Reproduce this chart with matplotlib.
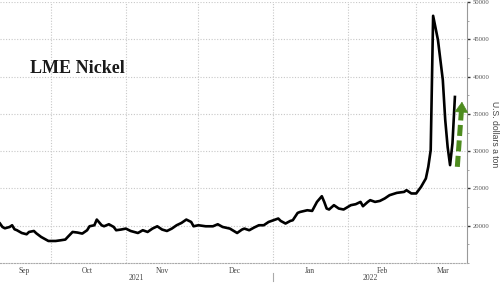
import matplotlib
matplotlib.use("Agg")
import matplotlib.pyplot as plt
import matplotlib.dates as mdates
import matplotlib.transforms as mtransforms
import pandas as pd

# LME nickel close, U.S. dollars a ton
dates = [
    "2021-09-10", "2021-09-11", "2021-09-12", "2021-09-14", "2021-09-15", "2021-09-16", "2021-09-17",
    "2021-09-19", "2021-09-21", "2021-09-22", "2021-09-24", "2021-09-25", "2021-09-27", "2021-09-30",
    "2021-10-03", "2021-10-05", "2021-10-07", "2021-10-08", "2021-10-10", "2021-10-12", "2021-10-14",
    "2021-10-16", "2021-10-17", "2021-10-19", "2021-10-20", "2021-10-22", "2021-10-23", "2021-10-25",
    "2021-10-27", "2021-10-28", "2021-10-30",
    "2021-11-01", "2021-11-03", "2021-11-06", "2021-11-08", "2021-11-10", "2021-11-12", "2021-11-14",
    "2021-11-16", "2021-11-18", "2021-11-20", "2021-11-22", "2021-11-24", "2021-11-26", "2021-11-28",
    "2021-11-29",
    "2021-12-01", "2021-12-04", "2021-12-07", "2021-12-09", "2021-12-11", "2021-12-14", "2021-12-17",
    "2021-12-19", "2021-12-20", "2021-12-22", "2021-12-24", "2021-12-26", "2021-12-28", "2021-12-30",
    "2022-01-03", "2022-01-04", "2022-01-06", "2022-01-08", "2022-01-09", "2022-01-11", "2022-01-12",
    "2022-01-15", "2022-01-17", "2022-01-19", "2022-01-21", "2022-01-22", "2022-01-23", "2022-01-24",
    "2022-01-26", "2022-01-28", "2022-01-30",
    "2022-02-02", "2022-02-04", "2022-02-06", "2022-02-07", "2022-02-09", "2022-02-10", "2022-02-12",
    "2022-02-14", "2022-02-16", "2022-02-18", "2022-02-21", "2022-02-24", "2022-02-25", "2022-02-27",
    "2022-03-01", "2022-03-03", "2022-03-05", "2022-03-06", "2022-03-07", "2022-03-08", "2022-03-10",
    "2022-03-12", "2022-03-13", "2022-03-14", "2022-03-15", "2022-03-16", "2022-03-17",
]
prices = [
    20300, 19840, 19660, 19840, 20070, 19530, 19400, 19030, 18860, 19170, 19300, 18990, 18500, 17960,
    17960, 18050, 18150, 18500, 19170, 19090, 18950, 19400, 19930, 20070, 20830, 20070, 19930, 20200,
    19840, 19400, 19490,
    19620, 19300, 19030, 19400, 19170, 19620, 19930, 19490, 19300, 19620, 20070, 20380, 20830, 20510,
    19930,
    20070, 19930, 19930, 20200, 19840, 19620, 19030, 19490, 19620, 19400, 19760, 20070, 20070, 20510,
    20970, 20650, 20300, 20650, 20740, 21720, 21850, 22080, 21990, 23200, 23960, 23200, 22310, 22180,
    22760, 22310, 22180,
    22760, 22890, 23200, 22620, 23200, 23430, 23200, 23330, 23660, 24100, 24410, 24540, 24770, 24330,
    24330, 25210, 26340, 27900, 30150, 48150, 44900, 39560, 34200, 30550, 28130, 31090, 37270,
]

month_labels = ["Sep", "Oct", "Nov", "Dec", "Jan", "Feb", "Mar"]
month_label_dates = ["2021-09-20", "2021-10-16", "2021-11-16", "2021-12-16",
                     "2022-01-16", "2022-02-15", "2022-03-12"]
year_labels = ["2021", "2022"]
year_start = "2022-01-01"
x_start, x_end = "2021-09-10", "2022-03-22"
y_ticks = [20000, 25000, 30000, 35000, 40000, 45000, 50000]

# green "rebound" arrow
arrow_tail = ("2022-03-18", 27900)
arrow_base = ("2022-03-19 16:00", 35300)
arrow_tip = ("2022-03-20", 37000)

d = pd.to_datetime(dates)
x0, x1 = pd.Timestamp(x_start), pd.Timestamp(x_end)

fig = plt.figure(figsize=(5, 2.85), dpi=100)
ax = fig.add_axes([0.0, 0.077, 0.934, 0.916])

ax.plot(d, prices, color="black", lw=1.9, solid_joinstyle="round", zorder=3)

ax.set_xlim(x0, x1)
ax.set_ylim(15000, 50000)

# grid at month starts / every 5000
ax.xaxis.set_major_locator(mdates.MonthLocator())
ax.xaxis.set_major_formatter(plt.NullFormatter())
ax.set_xticks(pd.to_datetime(month_label_dates), minor=True)
ax.set_xticklabels(month_labels, minor=True, fontsize=5.5, family="Liberation Serif", color="#444444")
ax.tick_params(axis="x", which="both", length=0, pad=2.5)
ax.grid(True, which="major", color="#c8c8c8", linestyle=(0, (1, 1.5)), lw=0.8)

ax.yaxis.tick_right()
ax.set_yticks(y_ticks)
ax.set_yticklabels([str(v) for v in y_ticks], fontsize=4.8, family="Liberation Serif", color="#555555")
ax.set_yticks(range(15000, 50001, 2500), minor=True)
ax.tick_params(axis="y", which="major", length=2, width=1.0, color="#333333", pad=2)
ax.tick_params(axis="y", which="minor", length=1.5, width=0.6, color="#999999")

# axis title on the right edge
ax.text(0.989, 0.53, "U.S. dollars a ton", transform=fig.transFigure, rotation=270,
        fontsize=6.2, color="#444444", family="Liberation Sans", ha="center", va="center")

for s in ["left", "top"]:
    ax.spines[s].set_visible(False)
ax.spines["right"].set_color("#999999")
ax.spines["right"].set_linewidth(0.8)
ax.spines["bottom"].set_color("#aaaaaa")
ax.spines["bottom"].set_linestyle((0, (1, 1.5)))
ax.spines["bottom"].set_linewidth(0.8)

# year labels centred under each year's visible span
trans = mtransforms.blended_transform_factory(ax.transData, ax.transAxes)
ys = pd.Timestamp(year_start)
for lab, (a, b) in zip(year_labels, [(x0, ys), (ys, x1)]):
    mid = a + (b - a) / 2
    ax.text(mid, -0.057, lab, transform=trans, ha="center", va="center",
            fontsize=5.5, family="Liberation Serif", color="#444444")
ax.plot([ys, ys], [-0.04, -0.07], transform=trans, color="#aaaaaa", lw=0.8, clip_on=False)

# title
ax.text(0.064, 0.745, "LME Nickel", transform=ax.transAxes, fontsize=13,
        family="Liberation Serif", fontweight="bold", color="#1a1a1a", va="center")

# dashed green arrow
green = "#4e8c1f"
tail = (pd.Timestamp(arrow_tail[0]), arrow_tail[1])
base = (pd.Timestamp(arrow_base[0]), arrow_base[1])
tip = (pd.Timestamp(arrow_tip[0]), arrow_tip[1])
ax.plot([tail[0], base[0]], [tail[1], base[1]], color=green, lw=3.6,
        dashes=(2.2, 0.9), solid_capstyle="butt", zorder=4, clip_on=False)
ax.annotate("", xy=tip, xytext=base,
            arrowprops=dict(arrowstyle="-|>,head_width=0.45,head_length=0.7",
                            color=green, lw=0.5, mutation_scale=10),
            zorder=4, annotation_clip=False)

fig.savefig("out.png", dpi=100)
